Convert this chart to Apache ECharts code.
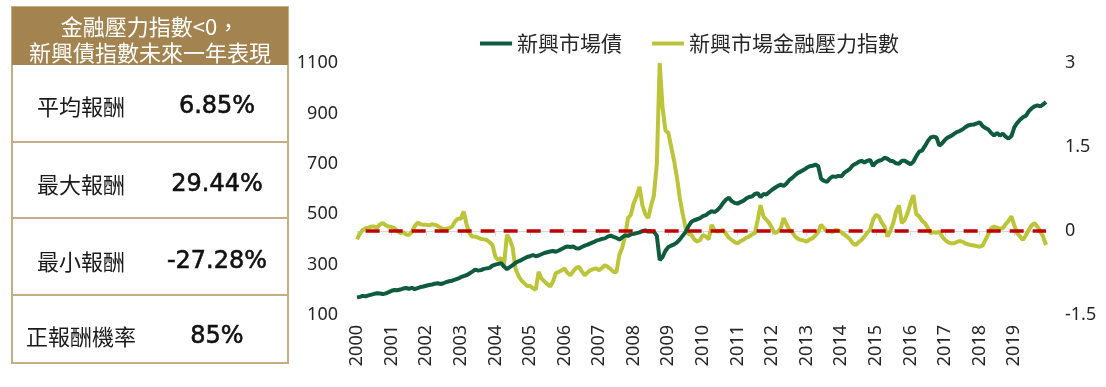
<!DOCTYPE html>
<html><head><meta charset="utf-8">
<script src="https://cdn.jsdelivr.net/npm/echarts@6/dist/echarts.min.js"></script>
<style>html,body{margin:0;padding:0;background:#fff}#c{width:1106px;height:387px}</style>
</head><body><div id="c"></div>
<script>
// ---- data ----
const years = [2000,2001,2002,2003,2004,2005,2006,2007,2008,2009,2010,2011,2012,2013,2014,2015,2016,2017,2018,2019];
const seriesNames = ['新興市場債','新興市場金融壓力指數'];
// 新興市場債 (left axis), monthly Jan 2000 - Dec 2019
const emBond = [
170,172,176,174,178,181,184,186,185,183,186,191,
196,199,198,201,205,207,204,208,203,207,211,213,
216,219,221,224,226,223,226,231,234,236,240,244,
250,254,258,265,272,280,276,278,283,285,287,296,
300,303,306,292,282,290,298,307,313,318,324,330,
333,338,333,336,341,346,349,352,354,351,356,362,
368,372,370,372,365,364,370,375,379,384,389,395,
398,402,404,411,415,410,406,399,408,416,414,420,
422,425,428,433,436,431,432,430,415,318,330,355,
370,375,380,388,400,415,430,452,470,476,480,484,
492,496,505,512,508,516,528,545,558,565,552,545,
542,548,553,562,568,570,580,583,568,580,578,588,
597,605,612,618,612,622,636,644,655,664,670,676,
684,690,692,697,690,640,632,628,642,650,648,652,
650,664,672,680,694,700,708,712,705,712,716,692,
705,712,715,724,720,712,710,702,700,712,712,705,
698,708,730,748,752,770,790,805,808,805,772,782,
795,805,810,818,826,830,836,845,852,855,856,860,
865,850,842,836,822,812,822,812,820,808,800,810,
845,862,875,885,890,908,920,928,932,928,935,945
];
// 新興市場金融壓力指數 (right axis), monthly Jan 2000 - Dec 2019
const emStress = [
-0.15,-0.05,0.02,0.05,0.06,0.08,0.08,0.06,0.12,0.14,0.10,0.08,
0.07,0.05,0.00,-0.04,-0.02,-0.06,-0.07,-0.02,0.08,0.15,0.12,0.11,
0.11,0.10,0.12,0.11,0.09,0.06,0.03,0.04,0.05,0.08,0.17,0.22,
0.22,0.35,0.12,-0.04,-0.10,-0.10,-0.12,-0.14,-0.15,-0.16,-0.20,-0.25,
-0.46,-0.52,-0.48,-0.61,-0.07,-0.15,-0.30,-0.68,-0.80,-0.88,-0.93,-0.98,
-0.98,-1.02,-1.05,-0.73,-0.85,-0.90,-0.95,-0.99,-0.90,-0.75,-0.73,-0.70,
-0.67,-0.75,-0.79,-0.72,-0.66,-0.64,-0.72,-0.79,-0.74,-0.70,-0.68,-0.67,
-0.70,-0.66,-0.61,-0.64,-0.68,-0.73,-0.73,-0.43,-0.30,-0.10,0.23,0.29,
0.50,0.62,0.79,0.46,0.30,0.23,0.45,0.64,1.20,3.00,2.20,1.80,
1.75,1.50,1.25,0.95,0.58,0.30,0.05,-0.05,-0.07,-0.15,-0.19,-0.16,
-0.07,-0.10,-0.15,0.11,0.02,-0.01,0.00,0.02,-0.05,-0.12,-0.16,-0.20,
-0.22,-0.18,-0.16,-0.12,-0.10,-0.06,-0.04,0.20,0.46,0.26,0.20,0.14,
0.05,-0.04,-0.01,0.05,0.23,0.12,0.02,-0.02,-0.10,-0.14,-0.16,-0.17,
-0.19,-0.15,-0.13,-0.08,-0.02,0.11,0.05,-0.01,0.00,-0.02,0.02,0.01,
-0.02,-0.06,-0.10,-0.15,-0.22,-0.25,-0.20,-0.16,-0.10,-0.03,0.02,0.20,
0.29,0.26,0.15,0.08,-0.10,0.00,0.14,0.35,0.46,0.14,0.20,0.32,
0.50,0.64,0.30,0.26,0.18,0.14,0.06,-0.04,-0.02,-0.03,-0.01,-0.10,
-0.16,-0.20,-0.22,-0.22,-0.20,-0.18,-0.19,-0.22,-0.24,-0.25,-0.26,-0.27,
-0.28,-0.26,-0.16,-0.05,0.05,0.08,0.06,0.04,0.05,0.12,0.18,0.26,
0.10,-0.04,-0.10,-0.16,-0.08,0.02,0.10,0.14,0.08,-0.01,-0.10,-0.25
];
const thresholdValue = 0;
const thresholdStart = '2000-04';
const leftTicks = {min:100, max:1100, interval:200};
const rightTicks = {min:-1.5, max:3, interval:1.5};
const tableHeader = ['金融壓力指數<0，','新興債指數未來一年表現'];
const tableLabels = ['平均報酬','最大報酬','最小報酬','正報酬機率'];
const tableValues = ['6.85%','29.44%','-27.28%','85%'];

// ---- build ----
const months = [];
years.forEach(y => { for (let m = 1; m <= 12; m++) months.push(y + '-' + (m < 10 ? '0' + m : m)); });

const CJK = '"Noto Sans CJK TC","Noto Sans CJK SC",sans-serif';
const NUM = '"Noto Sans","Liberation Sans",sans-serif';
const BORDER = '#c5ae85';

const rowY = [107, 185, 262, 337];
const graphics = [
  {type:'rect', shape:{x:12,y:7,width:276,height:356}, style:{fill:'#fff', stroke:BORDER, lineWidth:2}},
  {type:'rect', shape:{x:12,y:7,width:276,height:58}, style:{fill:'#a3834f'}},
  {type:'line', shape:{x1:12,y1:142,x2:288,y2:142}, style:{stroke:BORDER, lineWidth:2}},
  {type:'line', shape:{x1:12,y1:218,x2:288,y2:218}, style:{stroke:BORDER, lineWidth:2}},
  {type:'line', shape:{x1:12,y1:295,x2:288,y2:295}, style:{stroke:BORDER, lineWidth:2}}
];
tableHeader.forEach((t, i) => graphics.push({type:'text', x:150, y:27 + i*26,
  style:{text:t, fill:'#fff', font:'22px ' + CJK, textAlign:'center', textVerticalAlign:'middle'}}));
tableLabels.forEach((t, i) => graphics.push({type:'text', x:81, y:rowY[i],
  style:{text:t, fill:'#1a1a1a', font:'22px ' + CJK, textAlign:'center', textVerticalAlign:'middle'}}));
tableValues.forEach((t, i) => graphics.push({type:'text', x:217, y:rowY[i],
  style:{text:t, fill:'#111', stroke:'#111', lineWidth:0.6, font:'24px "DejaVu Sans",sans-serif', textAlign:'center', textVerticalAlign:'middle'}}));

const chart = echarts.init(document.getElementById('c'), null, {renderer:'canvas'});
const yearTick = (i) => i % 12 === 0;
chart.setOption({
  animation:false,
  backgroundColor:'#fff',
  graphic: graphics,
  legend:{
    data: seriesNames, left:475, top:28, icon:'rect', itemWidth:32, itemHeight:4, itemGap:30,
    textStyle:{fontSize:21, fontFamily:CJK, color:'#262626'}
  },
  grid:{left:357, right:60, top:63, bottom:72, containLabel:false},
  xAxis:{
    type:'category', data:months, boundaryGap:false,
    axisLine:{lineStyle:{color:'#d9d9d9', width:1}},
    axisTick:{show:true, interval:yearTick, length:5, lineStyle:{color:'#d9d9d9'}},
    axisLabel:{interval:yearTick, formatter:(v)=>v.slice(0,4), rotate:90, fontSize:18, fontFamily:NUM, color:'#262626', margin:10},
    splitLine:{show:false}
  },
  yAxis:[
    {type:'value', min:leftTicks.min, max:leftTicks.max, interval:leftTicks.interval,
     axisLine:{show:false}, axisTick:{show:false}, splitLine:{show:false},
     axisLabel:{fontSize:18, fontFamily:NUM, color:'#262626', margin:19, formatter:(v)=>String(v)}},
    {type:'value', min:rightTicks.min, max:rightTicks.max, interval:rightTicks.interval,
     axisLine:{show:false}, axisTick:{show:false}, splitLine:{show:false},
     axisLabel:{fontSize:18, fontFamily:NUM, color:'#262626', margin:19, formatter:(v)=>String(v)}}
  ],
  series:[
    {name:seriesNames[0], type:'line', data:emBond, yAxisIndex:0, showSymbol:false, symbol:'none',
     lineStyle:{color:'#0e5c3d', width:4}, itemStyle:{color:'#0e5c3d'}, z:3},
    {name:seriesNames[1], type:'line', data:emStress, yAxisIndex:1, showSymbol:false, symbol:'none',
     lineStyle:{color:'#bcc43a', width:4}, itemStyle:{color:'#bcc43a'}, z:2,
     markLine:{silent:true, symbol:'none', label:{show:false}, z:5,
       data:[[{coord:[thresholdStart, thresholdValue]}, {coord:[months[months.length-1], thresholdValue]}]],
       lineStyle:{color:'#c00000', type:[14,9], width:3.5}}}
  ]
});
</script></body></html>
